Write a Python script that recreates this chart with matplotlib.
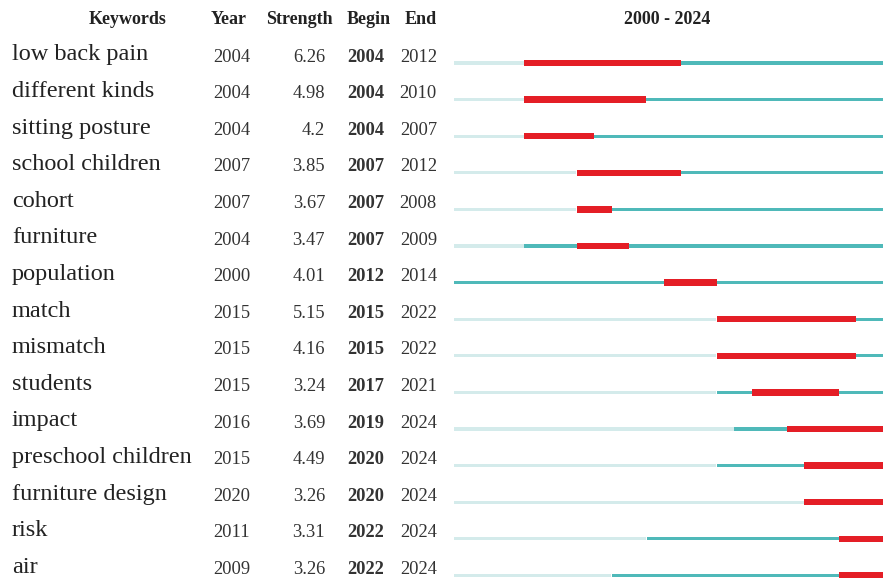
import matplotlib.pyplot as plt

# 关键词突现数据
keywords = ["low back pain", "different kinds", "sitting posture", "school children",
            "cohort", "furniture", "population", "match", "mismatch", "students",
            "impact", "preschool children", "furniture design", "risk", "air"]
year = [2004, 2004, 2004, 2007, 2007, 2004, 2000, 2015, 2015, 2015, 2016, 2015, 2020, 2011, 2009]
strength = [6.26, 4.98, 4.2, 3.85, 3.67, 3.47, 4.01, 5.15, 4.16, 3.24, 3.69, 4.49, 3.26, 3.31, 3.26]
begin = [2004, 2004, 2004, 2007, 2007, 2007, 2012, 2015, 2015, 2017, 2019, 2020, 2020, 2022, 2022]
end = [2012, 2010, 2007, 2012, 2008, 2009, 2014, 2022, 2022, 2021, 2024, 2024, 2024, 2024, 2024]
start_year, end_year = 2000, 2024

RED = "#e41e26"
TEAL = "#4fb9b9"
LIGHT = "#d4ebeb"
SERIF = ["Liberation Serif", "DejaVu Serif"]

W, H = 883, 578
row0, step = 63, 36.6  # 第一行位置和行距（像素）
ytop = -row0 / step
ybot = (H - row0) / step

fig = plt.figure(figsize=(W / 100, H / 100), dpi=100)

# 左侧表格
tx = fig.add_axes([0, 0, 454 / W, 1])
tx.set_xlim(0, 454)
tx.set_ylim(ybot, ytop)
tx.axis("off")

# 右侧突现条
ax = fig.add_axes([454 / W, 0, (W - 454) / W, 1])
ax.set_xlim(start_year, start_year + (W - 454) / 17.5)
ax.set_ylim(ybot, ytop)
ax.axis("off")

hy = (20 - row0) / step
hdr = dict(fontsize=13, fontweight="bold", family=SERIF, va="center", color="#222222")
tx.text(167, hy, "Keywords", ha="right", **hdr)
tx.text(229, hy, "Year", ha="center", **hdr)
tx.text(299, hy, "Strength", ha="center", **hdr)
tx.text(347, hy, "Begin", ha="left", **hdr)
tx.text(437, hy, "End", ha="right", **hdr)
ax.text(2012.2, hy, "2000 - 2024", ha="center", **hdr)

off = -0.22
num = dict(fontsize=13.3, family=SERIF, va="center", color="#333333")
for i, kw in enumerate(keywords):
    y = i + off
    tx.text(12, y, kw, fontsize=17.5, family=SERIF, va="center", color="#222222")
    tx.text(213, y + 0.06, str(year[i]), ha="left", **num)
    tx.text(325, y + 0.06, str(strength[i]), ha="right", **num)
    tx.text(347, y + 0.06, str(begin[i]), ha="left", fontweight="bold", **num)
    tx.text(437, y + 0.06, str(end[i]), ha="right", **num)

    # 浅色：出现之前；青色：出现之后；红色：突现区间
    ax.barh(i, year[i] - start_year, left=start_year, height=0.085, color=LIGHT, linewidth=0)
    ax.barh(i, end_year + 1 - year[i], left=year[i], height=0.085, color=TEAL, linewidth=0)
    ax.barh(i, end[i] + 1 - begin[i], left=begin[i], height=0.17, color=RED, linewidth=0)

fig.savefig("out.png", dpi=100)
